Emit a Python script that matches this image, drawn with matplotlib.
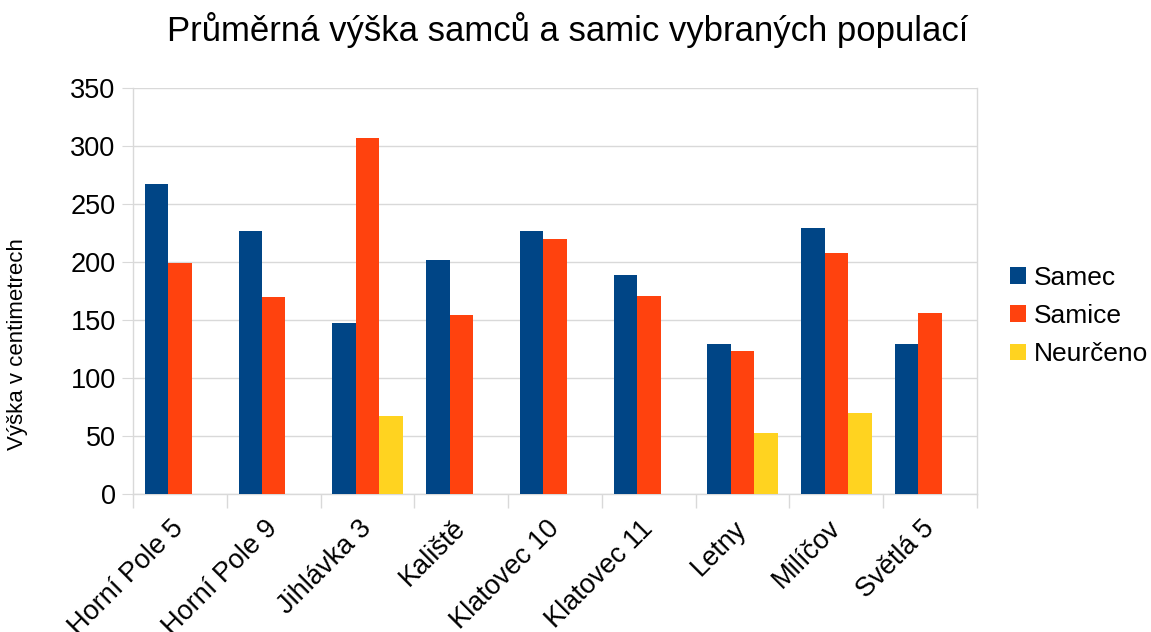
import matplotlib
matplotlib.use("Agg")
import matplotlib.pyplot as plt
import numpy as np

plt.rcParams['font.family'] = ['Liberation Sans', 'DejaVu Sans']

categories = ["Horní Pole 5", "Horní Pole 9", "Jihlávka 3", "Kaliště", "Klatovec 10",
              "Klatovec 11", "Letny", "Milíčov", "Světlá 5"]
samec = [267, 227, 147, 202, 227, 189, 129, 229, 129]
samice = [199, 170, 307, 154, 220, 171, 123, 208, 156]
neurceno = [0, 0, 67, 0, 0, 0, 53, 70, 0]
series_names = ["Samec", "Samice", "Neurčeno"]
colors = ["#004586", "#ff420e", "#ffd320"]
yticks = [0, 50, 100, 150, 200, 250, 300, 350]

fig = plt.figure(figsize=(11.51, 6.32), dpi=100)
ax = fig.add_axes([133/1151, 1-494/632, (977-133)/1151, (494-88)/632])

x = np.arange(len(categories))
w = 0.25
handles = []
for i, (vals, name, c) in enumerate(zip([samec, samice, neurceno], series_names, colors)):
    h = ax.bar(x + (i - 1) * w, vals, width=w, color=c, label=name, zorder=3)
    handles.append(h)

ax.set_xlim(-0.5, len(categories) - 0.5)
ax.set_ylim(0, 350)
ax.set_yticks(yticks)
ax.set_yticklabels([str(v) for v in yticks], fontsize=19.5)
ax.yaxis.grid(True, color="#d9d9d9", linewidth=1, zorder=0)
ax.tick_params(axis='y', length=8, color="#d9d9d9", pad=4.5)

# category boundaries as ticks
ax.set_xticks(np.arange(len(categories) + 1) - 0.5)
ax.set_xticklabels([])
ax.tick_params(axis='x', length=10, color="#d9d9d9", width=1)
for xi, lab in zip(x, categories):
    ax.annotate(lab, xy=(xi, 0), xycoords=('data', 'axes fraction'),
                xytext=(0, -22), textcoords='offset points',
                rotation=45, rotation_mode='anchor', ha='right', va='center', fontsize=19.5)

ax.spines['top'].set_visible(False)
for s in ['left', 'right', 'bottom']:
    ax.spines[s].set_color("#d9d9d9")
    ax.spines[s].set_linewidth(1)

fig.text(568/1151, 1-30/632, "Průměrná výška samců a samic vybraných populací",
         ha='center', va='center', fontsize=25)
fig.text(18/1151, 1-344/632, "Výška v centimetrech", rotation=90,
         ha='center', va='center', fontsize=16)

leg = fig.legend(handles=handles, labels=series_names, loc='center left',
                 bbox_to_anchor=(997/1151, 1-316/632), frameon=False, borderpad=0,
                 fontsize=19, handlelength=0.6, handleheight=0.6, handletextpad=0.3,
                 labelspacing=0.54)

fig.savefig("out.png", dpi=100)
